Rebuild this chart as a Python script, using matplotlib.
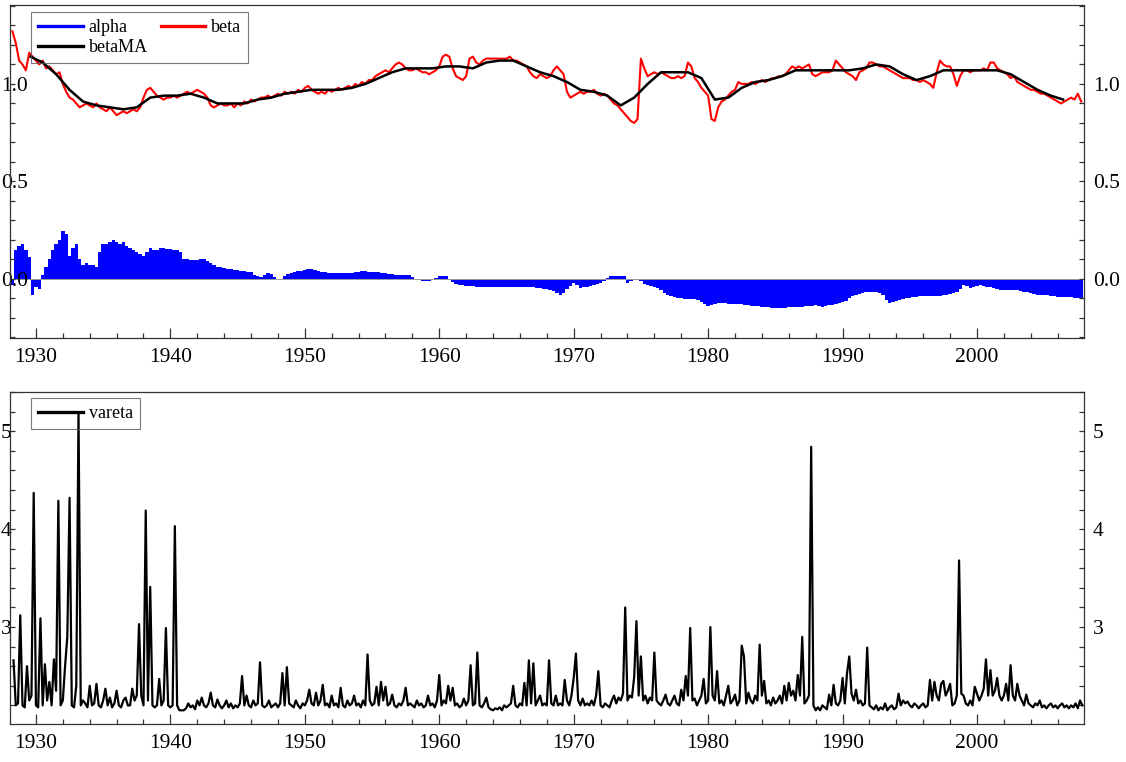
import matplotlib
matplotlib.use("Agg")
import matplotlib.pyplot as plt
from matplotlib.lines import Line2D
from matplotlib.ticker import MultipleLocator, FormatStrFormatter
import numpy as np

plt.rcParams['font.family'] = ['Liberation Serif', 'DejaVu Serif']

#### DATA ####
# quarterly samples, first one at 1928.25
alpha = [
    -0.03, 0.15, 0.17,
    0.18, 0.15, 0.11, -0.08,
    -0.04, -0.05, 0.02, 0.06,
    0.10, 0.15, 0.18, 0.20,
    0.245, 0.23, 0.12, 0.16,
    0.18, 0.10, 0.07, 0.08,
    0.07, 0.07, 0.06, 0.14,
    0.18, 0.18, 0.19, 0.20,
    0.19, 0.18, 0.19, 0.17,
    0.16, 0.15, 0.14, 0.13,
    0.12, 0.14, 0.16, 0.15,
    0.15, 0.16, 0.16, 0.155,
    # 1940s
    0.155, 0.15, 0.15, 0.14,
    0.10, 0.10, 0.095, 0.095,
    0.095, 0.10, 0.10, 0.09,
    0.08, 0.07, 0.06, 0.06,
    0.055, 0.05, 0.05, 0.045,
    0.045, 0.04, 0.04, 0.035,
    0.035, 0.02, 0.015, 0.01,
    0.02, 0.03, 0.025, 0.01,
    0.00, 0.00, 0.015, 0.025,
    0.03, 0.035, 0.04, 0.04,
    # 1950s
    0.045, 0.05, 0.05, 0.045,
    0.04, 0.035, 0.035, 0.03,
    0.03, 0.03, 0.03, 0.03,
    0.03, 0.03, 0.03, 0.035,
    0.035, 0.04, 0.04, 0.035,
    0.035, 0.035, 0.035, 0.03,
    0.03, 0.025, 0.025, 0.02,
    0.02, 0.02, 0.02, 0.02,
    0.01, 0.00, -0.005, -0.01,
    -0.01, -0.01, 0.00, 0.005,
    # 1960s
    0.015, 0.015, 0.015, 0.00,
    -0.015, -0.025, -0.03, -0.03,
    -0.035, -0.035, -0.035, -0.04,
    -0.04, -0.04, -0.04, -0.04,
    -0.04, -0.04, -0.04, -0.04,
    -0.04, -0.04, -0.04, -0.04,
    -0.04, -0.04, -0.04, -0.04,
    -0.04, -0.045, -0.045, -0.05,
    -0.05, -0.055, -0.06, -0.07,
    -0.08, -0.07, -0.05, -0.035,
    # 1970s
    -0.02, -0.03, -0.045, -0.04,
    -0.04, -0.035, -0.03, -0.025,
    -0.02, -0.01, 0.005, 0.015,
    0.015, 0.015, 0.015, 0.015,
    -0.02, -0.01, -0.005, 0.00,
    -0.01, -0.025, -0.03, -0.035,
    -0.04, -0.045, -0.055, -0.07,
    -0.08, -0.09, -0.095, -0.10,
    -0.10, -0.105, -0.105, -0.105,
    -0.105, -0.11, -0.12, -0.13,
    # 1980s
    -0.14, -0.135, -0.13, -0.125,
    -0.125, -0.125, -0.13, -0.13,
    -0.13, -0.13, -0.13, -0.135,
    -0.135, -0.14, -0.14, -0.14,
    -0.145, -0.145, -0.145, -0.15,
    -0.15, -0.15, -0.15, -0.15,
    -0.145, -0.145, -0.145, -0.145,
    -0.145, -0.14, -0.14, -0.14,
    -0.135, -0.14, -0.145, -0.14,
    -0.135, -0.135, -0.13, -0.125,
    # 1990s
    -0.12, -0.115, -0.10, -0.09,
    -0.08, -0.075, -0.07, -0.065,
    -0.065, -0.065, -0.065, -0.07,
    -0.08, -0.11, -0.125, -0.12,
    -0.115, -0.11, -0.105, -0.10,
    -0.10, -0.095, -0.095, -0.09,
    -0.09, -0.09, -0.09, -0.09,
    -0.09, -0.09, -0.085, -0.08,
    -0.075, -0.07, -0.065, -0.05,
    -0.03, -0.035, -0.045, -0.04,
    # 2000s
    -0.035, -0.03, -0.035, -0.04,
    -0.04, -0.045, -0.05, -0.055,
    -0.055, -0.055, -0.055, -0.055,
    -0.055, -0.06, -0.065, -0.065,
    -0.07, -0.075, -0.08, -0.08,
    -0.085, -0.085, -0.09, -0.09,
    -0.095, -0.095, -0.095, -0.095,
    -0.095, -0.10, -0.10, -0.10,
]

# quarterly samples, first one at 1928.25
beta = [
    1.27, 1.21, 1.12,
    1.10, 1.07, 1.16, 1.14,
    1.12, 1.10, 1.12, 1.08,
    1.09, 1.07, 1.05, 1.06,
    1.00, 0.96, 0.93, 0.92,
    0.90, 0.88, 0.89, 0.90,
    0.89, 0.88, 0.90, 0.88,
    0.87, 0.86, 0.88, 0.86,
    0.84, 0.85, 0.86, 0.85,
    0.86, 0.87, 0.86, 0.88,
    0.93, 0.97, 0.98, 0.96,
    0.94, 0.93, 0.92, 0.93,
    # 1940s
    0.93, 0.94, 0.93, 0.94,
    0.95, 0.96, 0.95, 0.96,
    0.97, 0.96, 0.95, 0.93,
    0.89, 0.88, 0.89, 0.90,
    0.89, 0.89, 0.90, 0.88,
    0.90, 0.89, 0.91, 0.90,
    0.92, 0.91, 0.92, 0.93,
    0.93, 0.94, 0.93, 0.94,
    0.95, 0.94, 0.96, 0.95,
    0.96, 0.95, 0.97, 0.96,
    # 1950s
    0.98, 0.99, 0.97, 0.96,
    0.95, 0.96, 0.95, 0.97,
    0.96, 0.97, 0.98, 0.97,
    0.98, 0.99, 0.98, 1.00,
    0.99, 1.01, 1.00, 1.02,
    1.02, 1.04, 1.05, 1.06,
    1.07, 1.06, 1.08, 1.10,
    1.11, 1.10, 1.08, 1.07,
    1.07, 1.08, 1.07, 1.06,
    1.06, 1.05, 1.06, 1.07,
    # 1960s
    1.09, 1.14, 1.15, 1.14,
    1.08, 1.04, 1.03, 1.02,
    1.04, 1.13, 1.14, 1.11,
    1.10, 1.12, 1.13, 1.13,
    1.13, 1.13, 1.13, 1.13,
    1.13, 1.14, 1.12, 1.12,
    1.11, 1.10, 1.09, 1.06,
    1.04, 1.03, 1.05, 1.04,
    1.03, 1.04, 1.07, 1.09,
    1.07, 1.05, 0.96, 0.93,
    # 1970s
    0.94, 0.95, 0.96, 0.95,
    0.96, 0.96, 0.97, 0.95,
    0.94, 0.95, 0.94, 0.92,
    0.90, 0.89, 0.87, 0.85,
    0.83, 0.81, 0.80, 0.82,
    1.13, 1.08, 1.04, 1.05,
    1.06, 1.05, 1.06, 1.05,
    1.04, 1.03, 1.03, 1.04,
    1.03, 1.04, 1.11, 1.09,
    1.03, 1.01, 0.98, 0.96,
    # 1980s
    0.94, 0.82, 0.81, 0.88,
    0.91, 0.92, 0.94, 0.96,
    0.97, 1.01, 1.00, 1.00,
    1.00, 1.01, 1.00, 1.01,
    1.02, 1.01, 1.02, 1.03,
    1.03, 1.04, 1.04, 1.05,
    1.07, 1.09, 1.08, 1.09,
    1.08, 1.09, 1.10, 1.05,
    1.04, 1.05, 1.06, 1.06,
    1.06, 1.07, 1.12, 1.10,
    # 1990s
    1.08, 1.06, 1.05, 1.04,
    1.02, 1.06, 1.07, 1.08,
    1.11, 1.11, 1.10, 1.09,
    1.09, 1.08, 1.07, 1.06,
    1.05, 1.04, 1.03, 1.03,
    1.03, 1.02, 1.02, 1.01,
    1.02, 1.01, 1.00, 0.98,
    1.06, 1.12, 1.10, 1.09,
    1.09, 1.05, 0.99, 1.04,
    1.07, 1.07, 1.06, 1.07,
    # 2000s
    1.07, 1.07, 1.08, 1.07,
    1.11, 1.11, 1.08, 1.07,
    1.06, 1.05, 1.03, 1.04,
    1.01, 1.00, 0.99, 0.98,
    0.97, 0.97, 0.96, 0.95,
    0.95, 0.94, 0.93, 0.92,
    0.91, 0.90, 0.91, 0.92,
    0.93, 0.92, 0.95, 0.91,
]

betaMA_year = [1929.6, 1930.5, 1931.5, 1932.5, 1933.5, 1934.5, 1935.5, 1936.5, 1937.5, 1938.5,
               1939.5, 1940.5, 1941.5, 1942.5, 1943.5, 1944.5, 1945.5, 1946.5, 1947.5, 1948.5,
               1949.5, 1950.5, 1951.5, 1952.5, 1953.5, 1954.5, 1955.5, 1956.5, 1957.5, 1958.5,
               1959.5, 1960.5, 1961.5, 1962.5, 1963.5, 1964.5, 1965.5, 1966.5, 1967.5, 1968.5,
               1969.5, 1970.5, 1971.5, 1972.5, 1973.5, 1974.5, 1975.5, 1976.5, 1977.5, 1978.5,
               1979.5, 1980.5, 1981.5, 1982.5, 1983.5, 1984.5, 1985.5, 1986.5, 1987.5, 1988.5,
               1989.5, 1990.5, 1991.5, 1992.5, 1993.5, 1994.5, 1995.5, 1996.5, 1997.5, 1998.5,
               1999.5, 2000.5, 2001.5, 2002.5, 2003.5, 2004.5, 2005.5, 2006.4]
betaMA = [1.14, 1.11, 1.05, 0.97, 0.91, 0.89, 0.88, 0.87, 0.88, 0.93,
          0.94, 0.94, 0.95, 0.93, 0.90, 0.90, 0.90, 0.92, 0.93, 0.95,
          0.96, 0.97, 0.97, 0.97, 0.98, 1.00, 1.03, 1.06, 1.08, 1.08,
          1.08, 1.09, 1.09, 1.08, 1.11, 1.12, 1.12, 1.09, 1.06, 1.04,
          1.01, 0.97, 0.96, 0.94, 0.89, 0.93, 1.00, 1.06, 1.06, 1.06,
          1.03, 0.92, 0.93, 0.98, 1.01, 1.02, 1.04, 1.07, 1.07, 1.07,
          1.07, 1.07, 1.08, 1.10, 1.09, 1.05, 1.02, 1.04, 1.07, 1.07,
          1.07, 1.07, 1.07, 1.05, 1.01, 0.97, 0.94, 0.92]

# bimonthly samples, first one at 1928 + 2/6
vareta = [
    2.66, 2.20, 2.22, 3.12,
    2.20, 2.18, 2.60, 2.25, 2.30, 4.37,
    2.20, 2.18, 3.09, 2.20, 2.62, 2.25,
    2.44, 2.20, 2.67, 2.35, 4.29, 2.20,
    2.25, 2.60, 2.90, 4.32, 2.20, 2.18,
    2.40, 5.18, 2.20, 2.25, 2.22, 2.18,
    2.40, 2.20, 2.22, 2.42, 2.20, 2.18,
    2.25, 2.37, 2.20, 2.28, 2.18, 2.22,
    2.35, 2.20, 2.18, 2.25, 2.28, 2.20,
    2.20, 2.37, 2.25, 2.30, 3.03, 2.30,
    2.20, 4.19, 2.25, 3.41, 2.20, 2.18,
    2.20, 2.47, 2.20, 2.25, 2.99, 2.20,
    # 1940s
    2.18, 2.20, 4.03, 2.20, 2.15, 2.15,
    2.15, 2.17, 2.22, 2.18, 2.20, 2.16,
    2.25, 2.20, 2.28, 2.20, 2.18, 2.22,
    2.33, 2.20, 2.18, 2.26, 2.20, 2.17,
    2.20, 2.25, 2.18, 2.22, 2.17, 2.20,
    2.18, 2.22, 2.50, 2.20, 2.30, 2.20,
    2.18, 2.25, 2.20, 2.22, 2.64, 2.20,
    2.18, 2.20, 2.25, 2.18, 2.20, 2.22,
    2.18, 2.22, 2.53, 2.20, 2.59, 2.22,
    2.20, 2.18, 2.25, 2.20, 2.17, 2.22,
    # 1950s
    2.20, 2.25, 2.36, 2.22, 2.20, 2.33,
    2.20, 2.25, 2.41, 2.20, 2.22, 2.18,
    2.30, 2.20, 2.22, 2.18, 2.38, 2.20,
    2.18, 2.25, 2.20, 2.22, 2.30, 2.20,
    2.22, 2.18, 2.25, 2.20, 2.72, 2.25,
    2.20, 2.22, 2.39, 2.20, 2.44, 2.25,
    2.39, 2.20, 2.22, 2.31, 2.20, 2.18,
    2.22, 2.20, 2.25, 2.38, 2.20, 2.22,
    2.20, 2.18, 2.25, 2.20, 2.22, 2.18,
    2.20, 2.30, 2.20, 2.22, 2.18, 2.25,
    # 1960s
    2.51, 2.20, 2.25, 2.22, 2.40, 2.25,
    2.38, 2.20, 2.22, 2.18, 2.20, 2.27,
    2.20, 2.25, 2.61, 2.20, 2.22, 2.74,
    2.20, 2.18, 2.22, 2.28, 2.18, 2.16,
    2.15, 2.17, 2.16, 2.18, 2.15, 2.20,
    2.18, 2.20, 2.22, 2.40, 2.20, 2.18,
    2.22, 2.20, 2.43, 2.20, 2.66, 2.22,
    2.63, 2.20, 2.25, 2.30, 2.20, 2.22,
    2.20, 2.66, 2.22, 2.20, 2.30, 2.20,
    2.22, 2.20, 2.46, 2.25, 2.20, 2.30,
    # 1970s
    2.48, 2.73, 2.25, 2.20, 2.27, 2.20,
    2.22, 2.20, 2.25, 2.20, 2.30, 2.55,
    2.20, 2.18, 2.22, 2.20, 2.18, 2.25,
    2.30, 2.22, 2.28, 2.25, 2.32, 3.20,
    2.25, 2.30, 2.28, 2.49, 3.06, 2.30,
    2.70, 2.25, 2.30, 2.22, 2.28, 2.25,
    2.74, 2.25, 2.22, 2.20, 2.25, 2.31,
    2.22, 2.20, 2.25, 2.30, 2.22, 2.20,
    2.36, 2.25, 2.50, 2.30, 2.99, 2.25,
    2.27, 2.20, 2.25, 2.30, 2.47, 2.22,
    # 1980s
    2.25, 3.00, 2.30, 2.25, 2.55, 2.22,
    2.25, 2.20, 2.30, 2.40, 2.22, 2.25,
    2.31, 2.20, 2.25, 2.81, 2.70, 2.22,
    2.33, 2.25, 2.22, 2.30, 2.25, 2.82,
    2.30, 2.45, 2.22, 2.25, 2.20, 2.28,
    2.22, 2.25, 2.30, 2.22, 2.40, 2.25,
    2.43, 2.30, 2.35, 2.25, 2.51, 2.30,
    2.90, 2.22, 2.25, 2.30, 4.84, 2.20,
    2.15, 2.18, 2.15, 2.20, 2.18, 2.16,
    2.31, 2.20, 2.41, 2.22, 2.20, 2.25,
    # 1990s
    2.48, 2.22, 2.53, 2.70, 2.32, 2.25,
    2.36, 2.22, 2.25, 2.20, 2.22, 2.79,
    2.20, 2.18, 2.16, 2.20, 2.15, 2.18,
    2.16, 2.22, 2.15, 2.18, 2.20, 2.16,
    2.18, 2.32, 2.20, 2.25, 2.22, 2.24,
    2.20, 2.18, 2.22, 2.20, 2.17, 2.20,
    2.22, 2.18, 2.20, 2.46, 2.25, 2.44,
    2.30, 2.25, 2.42, 2.45, 2.30, 2.35,
    2.42, 2.20, 2.22, 2.30, 3.68, 2.32,
    2.30, 2.22, 2.20, 2.25, 2.20, 2.39,
    # 2000s
    2.32, 2.25, 2.30, 2.37, 2.67, 2.30,
    2.56, 2.30, 2.35, 2.48, 2.30, 2.25,
    2.30, 2.42, 2.25, 2.61, 2.30, 2.25,
    2.42, 2.30, 2.25, 2.20, 2.31, 2.22,
    2.20, 2.18, 2.22, 2.20, 2.25, 2.18,
    2.20, 2.17, 2.20, 2.22, 2.18, 2.20,
    2.17, 2.20, 2.22, 2.18, 2.20, 2.17,
    2.20, 2.18, 2.22, 2.17, 2.25, 2.20,
]

t_q = 1928.25 + 0.25 * np.arange(len(beta))
t_a = 1928.25 + 0.25 * np.arange(len(alpha))
t_v = 1928 + 2 / 6 + np.arange(len(vareta)) / 6

#### FIGURE ####
W, H = 1126, 762
fig = plt.figure(figsize=(W / 100, H / 100), dpi=100)
ax1 = fig.add_axes([10 / W, 1 - 338 / H, 1074 / W, 333 / H])
ax2 = fig.add_axes([10 / W, 1 - 724 / H, 1074 / W, 332 / H])

ax1.bar(t_a, alpha, width=0.25, color='#0000ff', linewidth=0)
ax1.axhline(0, color='#999999', lw=0.7, zorder=1)
ax1.plot(t_q, beta, color='#ff0000', lw=1.5)
ax1.plot(betaMA_year, betaMA, color='black', lw=1.8)

ax2.plot(t_v, vareta, color='black', lw=1.6)

ax1.set_ylim(-0.303, 1.405)
ax1.yaxis.set_major_locator(MultipleLocator(0.5))
ax1.yaxis.set_minor_locator(MultipleLocator(0.1))
ax1.yaxis.set_major_formatter(FormatStrFormatter('%.1f'))

ax2.set_ylim(2.01, 5.40)
ax2.yaxis.set_major_locator(MultipleLocator(1))
ax2.yaxis.set_minor_locator(MultipleLocator(0.2))
ax2.yaxis.set_major_formatter(FormatStrFormatter('%d'))

for ax in (ax1, ax2):
    ax.set_xlim(1928.07, 2007.96)
    ax.xaxis.set_major_locator(MultipleLocator(10))
    ax.xaxis.set_minor_locator(MultipleLocator(2))
    for sp in ax.spines.values():
        sp.set_color('#333333')
        sp.set_linewidth(0.9)
    ax.tick_params(axis='x', which='both', direction='in', top=False, color='#333333',
                   labelsize=15.5, pad=7.5)
    ax.tick_params(axis='x', which='major', length=7.5, width=0.9)
    ax.tick_params(axis='x', which='minor', length=3.8, width=0.9)
    ax.tick_params(axis='y', which='both', direction='in', left=True, right=True,
                   labelleft=True, labelright=True, length=3.8, width=0.9,
                   color='#333333', labelsize=15.5, pad=6.5)
    for tick in ax.yaxis.get_major_ticks():
        tick.label1.set_horizontalalignment('left')

leg_kw = dict(loc='upper left', borderaxespad=0, fancybox=False, facecolor='none',
              edgecolor='#555555', fontsize=13, handlelength=2.45, handletextpad=0.35,
              borderpad=0.4, labelspacing=0.15, columnspacing=0.7)

h_alpha = Line2D([], [], color='#0000ff', lw=2.4)
h_beta = Line2D([], [], color='#ff0000', lw=2.4)
h_ma = Line2D([], [], color='black', lw=2.4)
leg1 = ax1.legend([h_alpha, h_ma, h_beta], ['alpha', 'betaMA', 'beta'], ncol=2,
                  bbox_to_anchor=(0.0196, 0.979), **leg_kw)
leg1.get_frame().set_linewidth(0.8)

h_var = Line2D([], [], color='black', lw=2.4)
leg2 = ax2.legend([h_var], ['vareta'], bbox_to_anchor=(0.0196, 0.982), **leg_kw)
leg2.get_frame().set_linewidth(0.8)

fig.savefig('out.png', dpi=100)
